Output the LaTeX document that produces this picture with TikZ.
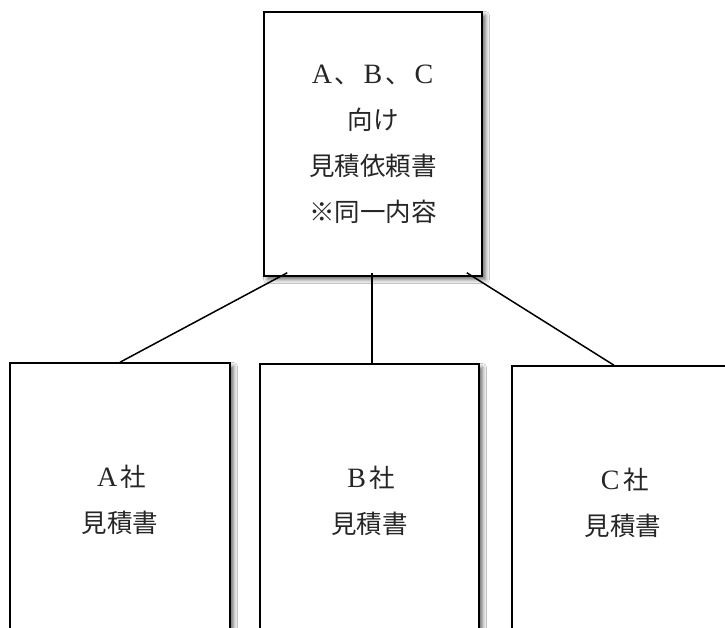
\documentclass[tikz,border=0pt]{standalone}
\usepackage{fontspec}
\setmainfont{Noto Sans CJK JP}
\newfontfamily\latinserif{Liberation Serif}
\usetikzlibrary{shadows.blur}
\newcommand{\fwl}[1]{\makebox[1em]{\latinserif\fontsize{28}{46}\selectfont #1}}
\tikzset{
  docbox/.style={draw=black, line width=1.5pt, fill=white, inner sep=0pt,
    align=center, text=black!85,
    font=\fontsize{25.5}{46}\selectfont,
    blur shadow={shadow xshift=3.5pt, shadow yshift=-3.5pt, shadow blur steps=6, shadow blur radius=4pt, shadow opacity=60}},
  link/.style={draw=black, line width=1.5pt}
}
\begin{document}
\begin{tikzpicture}[x=1pt,y=-1pt]
\useasboundingbox (0,0) rectangle (725,628);
\fill[white] (0,0) rectangle (725,628);
\begin{scope}
\clip (0,0) rectangle (725,628);
\node[docbox, minimum width=218pt, minimum height=264pt] (top) at (373,144)
  {\fwl{A}、\fwl{B}、\fwl{C}\\向け\\見積依頼書\\※同一内容};
\node[docbox, minimum width=220pt, minimum height=274pt] (A) at (120,500)
  {\fwl{A}社\\見積書};
\node[docbox, minimum width=219pt, minimum height=274pt] (B) at (369.5,501)
  {\fwl{B}社\\見積書};
\node[docbox, minimum width=222pt, minimum height=274pt] (C) at (623,503)
  {\fwl{C}社\\見積書};
\draw[link] ([xshift=24pt,yshift=4pt]top.south west) -- (A.north);
\draw[link] ([xshift=-1pt,yshift=4pt]top.south) -- ([xshift=2.5pt]B.north);
\draw[link] ([xshift=-16pt,yshift=4pt]top.south east) -- ([xshift=-9pt]C.north);
\end{scope}
\end{tikzpicture}
\end{document}
